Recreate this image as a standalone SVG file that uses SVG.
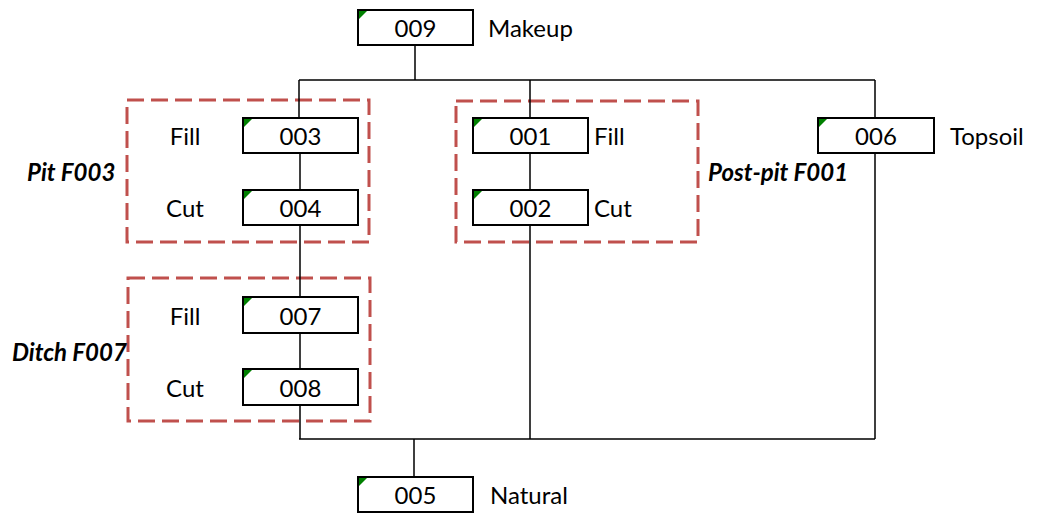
<svg xmlns="http://www.w3.org/2000/svg" width="1038" height="516" viewBox="0 0 1038 516">
<style>
.box{fill:#fff;stroke:#000;stroke-width:2}
.tri{fill:#008000}
.t{font-family:Lato,"Liberation Sans",sans-serif;font-size:24px;fill:#000}
.c{text-anchor:middle}
.g{font-family:Lato,"Liberation Sans",sans-serif;font-size:24px;font-weight:bold;font-style:italic;fill:#000}
.grp{fill:none;stroke:#C0504D;stroke-width:3;stroke-dasharray:17 7}
.ln{fill:none;stroke:#000;stroke-width:1.5}
</style>
<rect width="1038" height="516" fill="#fff"/>
<g id="groups">
<rect class="grp" x="127" y="100" width="242" height="142"/>
<rect class="grp" x="128" y="278" width="242" height="143"/>
<rect class="grp" x="456" y="101" width="242" height="141"/>
<text class="g" x="27" y="181">Pit F003</text>
<text class="g" x="12" y="361">Ditch F007</text>
<text class="g" x="708" y="181">Post-pit F001</text>
</g>
<g id="connectors">
<path class="ln" d="M415 45V80M299 80H875M299 80V118M300 153V190M300 225V297M300 333V369M300 405V439M530 80V118M530 153V190M530 225V439M875 80V118M875 153V439M299 439H875M414 439V477"/>
</g>
<g id="n009"><rect class="box" x="358" y="10" width="115" height="35"/><path class="tri" d="M359 11h8l-8 8z"/><text class="t c" x="415.5" y="37">009</text><text class="t" x="488" y="37">Makeup</text></g>
<g id="n003"><rect class="box" x="243" y="118" width="115" height="35"/><path class="tri" d="M244 119h8l-8 8z"/><text class="t c" x="300.5" y="145">003</text><text class="t c" x="185" y="145">Fill</text></g>
<g id="n004"><rect class="box" x="243" y="190" width="115" height="35"/><path class="tri" d="M244 191h8l-8 8z"/><text class="t c" x="300.5" y="217">004</text><text class="t c" x="185" y="217">Cut</text></g>
<g id="n007"><rect class="box" x="243" y="297" width="115" height="36"/><path class="tri" d="M244 298h8l-8 8z"/><text class="t c" x="300.5" y="325">007</text><text class="t c" x="185" y="325">Fill</text></g>
<g id="n008"><rect class="box" x="243" y="369" width="115" height="36"/><path class="tri" d="M244 370h8l-8 8z"/><text class="t c" x="300.5" y="397">008</text><text class="t c" x="185" y="397">Cut</text></g>
<g id="n001"><rect class="box" x="473" y="118" width="115" height="35"/><path class="tri" d="M474 119h8l-8 8z"/><text class="t c" x="530.5" y="145">001</text><text class="t" x="594" y="145">Fill</text></g>
<g id="n002"><rect class="box" x="473" y="190" width="115" height="35"/><path class="tri" d="M474 191h8l-8 8z"/><text class="t c" x="530.5" y="217">002</text><text class="t" x="594" y="217">Cut</text></g>
<g id="n006"><rect class="box" x="818" y="118" width="116" height="35"/><path class="tri" d="M819 119h8l-8 8z"/><text class="t c" x="876" y="145">006</text><text class="t" x="950" y="145">Topsoil</text></g>
<g id="n005"><rect class="box" x="358" y="477" width="115" height="35"/><path class="tri" d="M359 478h8l-8 8z"/><text class="t c" x="415.5" y="504">005</text><text class="t" x="490" y="504">Natural</text></g>
</svg>
